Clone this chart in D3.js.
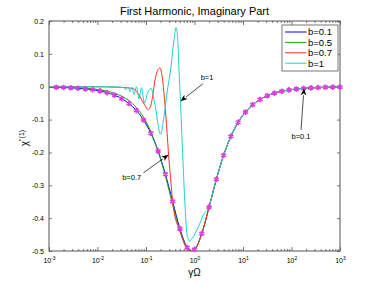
<!DOCTYPE html>
<meta charset="utf-8">
<style>
body { margin: 0; background: #fff; }
text { font-family: "Liberation Sans", Arial, Helvetica, sans-serif; fill: #000; }
.tick line { stroke: #555; stroke-width: 0.8; }
.domain { display: none; }
</style>
<body>
<script src="https://d3js.org/d3.v7.min.js"></script>
<script>

// ---- data (x given as log10 of gamma*Omega) ----
var seriesNames = ["b=0.1", "b=0.5", "b=0.7", "b=1"];
var seriesColors = ["#0000ff", "#1f9f1f", "#ff3020", "#22d0d0"];

var markerExp = [-2.85, -2.7, -2.55, -2.4, -2.25, -2.1, -1.95, -1.8, -1.65, -1.5,
  -1.35, -1.2, -1.05, -0.9, -0.75, -0.6, -0.45, -0.3, -0.15, 0,
  0.15, 0.3, 0.45, 0.6, 0.75, 0.9, 1.05, 1.2, 1.35, 1.5,
  1.65, 1.8, 1.95, 2.1, 2.25, 2.4, 2.55, 2.7, 2.85, 3.0];
var markerVal = [-0.0016, -0.0023, -0.0032, -0.0046, -0.0065, -0.0091, -0.0129, -0.0182, -0.0257, -0.0363,
  -0.0512, -0.0721, -0.1013, -0.1416, -0.1960, -0.2663, -0.3494, -0.4323, -0.4895, -0.4953,
  -0.4467, -0.3666, -0.2821, -0.2088, -0.1512, -0.1083, -0.0772, -0.0548, -0.0389, -0.0275,
  -0.0195, -0.0138, -0.0098, -0.0069, -0.0049, -0.0035, -0.0025, -0.0017, -0.0012, -0.0009];

var b01Exp = [-3, -2.85, -2.7, -2.55, -2.4, -2.25, -2.1, -1.95, -1.8, -1.65, -1.5,
  -1.35, -1.2, -1.05, -0.9, -0.75, -0.6, -0.45, -0.3, -0.15, -0.075, 0,
  0.15, 0.3, 0.45, 0.6, 0.75, 0.9, 1.05, 1.2, 1.35, 1.5,
  1.65, 1.8, 1.95, 2.1, 2.25, 2.4, 2.55, 2.7, 2.85, 3.0];
var b01Val = [-0.0011, -0.0016, -0.0023, -0.0032, -0.0046, -0.0065, -0.0091, -0.0129, -0.0182, -0.0257, -0.0363,
  -0.0512, -0.0721, -0.1013, -0.1416, -0.1960, -0.2663, -0.3494, -0.4323, -0.4895, -0.4997, -0.4953,
  -0.4467, -0.3666, -0.2821, -0.2088, -0.1512, -0.1083, -0.0772, -0.0548, -0.0389, -0.0275,
  -0.0195, -0.0138, -0.0098, -0.0069, -0.0049, -0.0035, -0.0025, -0.0017, -0.0012, -0.0009];

var b05Exp = b01Exp;
var b05Val = [-0.0008, -0.0011, -0.0016, -0.0023, -0.0033, -0.0047, -0.0067, -0.0096, -0.0138, -0.0200, -0.0290,
  -0.0425, -0.0630, -0.0930, -0.1370, -0.1970, -0.2720, -0.3590, -0.4400, -0.4930, -0.5000, -0.4960,
  -0.4467, -0.3666, -0.2821, -0.2088, -0.1512, -0.1083, -0.0772, -0.0548, -0.0389, -0.0275,
  -0.0195, -0.0138, -0.0098, -0.0069, -0.0049, -0.0035, -0.0025, -0.0017, -0.0012, -0.0009];

var b07Exp = [-3, -2, -1.6, -1.4, -1.262, -1.124, -1.03, -0.953, -0.882, -0.814, -0.76, -0.711,
  -0.67, -0.629, -0.577, -0.526, -0.485, -0.443, -0.3, -0.15, -0.075, 0,
  0.15, 0.3, 0.45, 0.6, 0.75, 0.9, 1.05, 1.2, 1.35, 1.5,
  1.65, 1.8, 1.95, 2.1, 2.25, 2.4, 2.55, 2.7, 2.85, 3.0];
var b07Val = [0, -0.0003, -0.0015, -0.003, -0.006, -0.030, -0.055, -0.070, -0.045, 0.021, 0.050, 0.057,
  0.035, -0.019, -0.116, -0.223, -0.293, -0.360, -0.440, -0.493, -0.500, -0.4965,
  -0.4475, -0.3666, -0.2821, -0.2088, -0.1512, -0.1083, -0.0772, -0.0548, -0.0389, -0.0275,
  -0.0195, -0.0138, -0.0098, -0.0069, -0.0049, -0.0035, -0.0025, -0.0017, -0.0012, -0.0009];

var b1Exp = [-3, -1.742, -1.536, -1.454, -1.412, -1.371, -1.330, -1.289, -1.247, -1.196, -1.144,
  -1.093, -1.031, -0.97, -0.897, -0.814, -0.701, -0.639, -0.557, -0.485, -0.423, -0.381,
  -0.346, -0.320, -0.293, -0.268, -0.237, -0.196, -0.155, -0.103, -0.052, 0.031,
  0.113, 0.196, 0.278, 0.45, 0.6, 0.75, 0.9, 1.05, 1.2, 1.35, 1.5,
  1.65, 1.8, 1.95, 2.1, 2.25, 2.4, 2.55, 2.7, 2.85, 3.0];
var b1Val = [0, 0, -0.0015, -0.003, -0.009, 0, -0.015, -0.0015, -0.024, 0, -0.037,
  -0.003, -0.050, -0.020, -0.005, -0.055, -0.145, -0.100, -0.010, 0.060, 0.143, 0.180,
  0.143, 0.050, -0.030, -0.120, -0.230, -0.360, -0.450, -0.470, -0.462, -0.442,
  -0.415, -0.387, -0.372, -0.2821, -0.2088, -0.1512, -0.1083, -0.0772, -0.0548, -0.0389, -0.0275,
  -0.0195, -0.0138, -0.0098, -0.0069, -0.0049, -0.0035, -0.0025, -0.0017, -0.0012, -0.0009];

var yTicks = [0.2, 0.1, 0, -0.1, -0.2, -0.3, -0.4, -0.5];
var xDecades = [-3, -2, -1, 0, 1, 2, 3];

// annotations: label, text pos, arrow tail, arrow head (log10 x, y)
var notes = [
  {label: "b=1",   tx: 0.258,  ty: 0.030,  x0: 0.175,  y0: 0.009,  x1: -0.289, y1: -0.044},
  {label: "b=0.7", tx: -1.295, ty: -0.275, x0: -1.052, y0: -0.262, x1: -0.536, y1: -0.207},
  {label: "b=0.1", tx: 2.196,  ty: -0.149, x0: 2.196,  y0: -0.131, x1: 2.258,  y1: -0.005}
];

// ---- layout ----
var margin = {top: 21, right: 35, bottom: 32, left: 49},
    width = 375 - margin.left - margin.right,
    height = 283 - margin.top - margin.bottom;

var x = d3.scaleLog().domain([1e-3, 1e3]).range([0, width]);
var y = d3.scaleLinear().domain([-0.5, 0.2]).range([height, 0]);

var svg = d3.select("body").append("svg")
    .attr("width", 375)
    .attr("height", 283);

svg.append("text")
    .attr("x", margin.left + width / 2)
    .attr("y", 15)
    .attr("text-anchor", "middle")
    .style("font-size", "11px")
    .text("First Harmonic, Imaginary Part");

var g = svg.append("g")
    .attr("transform", "translate(" + margin.left + "," + margin.top + ")");

g.append("defs").append("clipPath").attr("id", "clip")
  .append("rect").attr("width", width).attr("height", height);

// minor x ticks
var minor = [];
xDecades.slice(0, -1).forEach(function(e) {
  for (var k = 2; k <= 9; k++) minor.push(k * Math.pow(10, e));
});
var majors = xDecades.map(function(e) { return Math.pow(10, e); });

g.append("g").attr("transform", "translate(0," + height + ")")
  .call(d3.axisBottom(x).tickValues(minor).tickSize(-2).tickFormat(""));
g.append("g")
  .call(d3.axisTop(x).tickValues(minor).tickSize(-2).tickFormat(""));
g.append("g")
  .call(d3.axisTop(x).tickValues(majors).tickSize(-4).tickFormat(""));

var xAx = g.append("g").attr("transform", "translate(0," + height + ")")
  .call(d3.axisBottom(x).tickValues(majors).tickSize(-4).tickFormat(""));
xAx.selectAll(".tick").append("text")
    .attr("y", 12)
    .attr("text-anchor", "middle")
    .style("font-size", "7px")
    .each(function(d) {
      var t = d3.select(this);
      t.append("tspan").text("10");
      t.append("tspan").attr("dy", -3).style("font-size", "5px")
        .text(String(Math.round(Math.log10(d))));
    });

g.append("g")
  .call(d3.axisLeft(y).tickValues(yTicks).tickSize(-3).tickPadding(5)
    .tickFormat(function(d) { return String(Math.round(d * 10) / 10); }))
  .selectAll("text").style("font-size", "7px").attr("fill", "#000");
g.append("g").attr("transform", "translate(" + width + ",0)")
  .call(d3.axisRight(y).tickValues(yTicks).tickSize(-3).tickFormat(""));

g.append("rect")
    .attr("width", width).attr("height", height)
    .attr("fill", "none").attr("stroke", "#555").attr("stroke-width", 1);

// ---- curves ----
function pts(ex, vals) {
  return ex.map(function(e, i) { return [Math.pow(10, e), vals[i]]; });
}
var line = d3.line()
    .x(function(d) { return x(d[0]); })
    .y(function(d) { return y(d[1]); })
    .curve(d3.curveMonotoneX);

var curves = [pts(b01Exp, b01Val), pts(b05Exp, b05Val), pts(b07Exp, b07Val), pts(b1Exp, b1Val)];

g.append("g").attr("clip-path", "url(#clip)")
  .selectAll("path")
  .data(curves)
  .enter().append("path")
    .attr("d", line)
    .attr("fill", "none")
    .attr("stroke", function(d, i) { return seriesColors[i]; })
    .attr("stroke-width", 1);

var sym = d3.symbol().type(d3.symbolAsterisk).size(22);
g.selectAll(".mk")
  .data(pts(markerExp, markerVal))
  .enter().append("path")
    .attr("class", "mk")
    .attr("transform", function(d) { return "translate(" + x(d[0]) + "," + y(d[1]) + ")"; })
    .attr("d", sym)
    .attr("fill", "none")
    .attr("stroke", "#dd3ee0")
    .attr("stroke-width", 1.7);

// ---- annotations ----
notes.forEach(function(n) {
  var ax0 = x(Math.pow(10, n.x0)), ay0 = y(n.y0),
      ax1 = x(Math.pow(10, n.x1)), ay1 = y(n.y1);
  var dx = ax1 - ax0, dy = ay1 - ay0, L = Math.sqrt(dx * dx + dy * dy);
  var ux = dx / L, uy = dy / L, hl = 7, hw = 2.8;
  var bx = ax1 - ux * hl, by = ay1 - uy * hl;
  g.append("line")
      .attr("x1", ax0).attr("y1", ay0).attr("x2", bx).attr("y2", by)
      .attr("stroke", "#000").attr("stroke-width", 0.7);
  g.append("path")
      .attr("d", "M" + ax1 + "," + ay1 +
        "L" + (bx - uy * hw) + "," + (by + ux * hw) +
        "L" + (bx + ux * 2) + "," + (by + uy * 2) +
        "L" + (bx + uy * hw) + "," + (by - ux * hw) + "Z")
      .attr("fill", "#000");
  g.append("text")
      .attr("x", x(Math.pow(10, n.tx)))
      .attr("y", y(n.ty) + 3)
      .attr("text-anchor", "middle")
      .style("font-size", "7.5px")
      .text(n.label);
});

// ---- legend ----
var leg = svg.append("g").attr("transform", "translate(282,25)");
leg.append("rect")
    .attr("width", 56).attr("height", 46)
    .attr("fill", "#fff").attr("stroke", "#555").attr("stroke-width", 0.8);
seriesNames.forEach(function(s, i) {
  var yy = 7 + i * 10.4;
  leg.append("line")
      .attr("x1", 3).attr("x2", 24.5).attr("y1", yy).attr("y2", yy)
      .attr("stroke", seriesColors[i]).attr("stroke-width", 1);
  leg.append("text")
      .attr("x", 26).attr("y", yy + 3.4)
      .style("font-size", "9.5px")
      .text(s);
});

// ---- axis labels ----
svg.append("text")
    .attr("x", margin.left + x(1))
    .attr("y", 276)
    .attr("text-anchor", "middle")
    .style("font-size", "10px")
    .text("γΩ");

var yl = svg.append("text")
    .attr("transform", "translate(28,138) rotate(-90)")
    .attr("text-anchor", "middle")
    .style("font-size", "10px");
yl.append("tspan").text("χ");
yl.append("tspan").attr("dy", -4).style("font-size", "7px").text("\u2033(1)");

</script>
</body>
